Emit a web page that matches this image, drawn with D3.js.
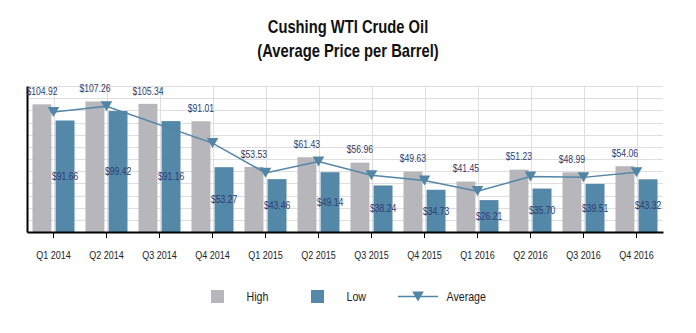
<!DOCTYPE html>
<html>
<head>
<meta charset="utf-8">
<script src="https://cdn.jsdelivr.net/npm/d3@7"></script>
<style>
  html, body { margin: 0; padding: 0; background: #fff; }
  svg { display: block; }
  text { font-family: "Liberation Sans", Arial, sans-serif; }
</style>
</head>
<body>
<svg id="chart" width="696" height="333"></svg>
<script>
// Quarterly WTI crude prices at Cushing ($ per barrel)
const quarters = ["Q1 2014", "Q2 2014", "Q3 2014", "Q4 2014",
                  "Q1 2015", "Q2 2015", "Q3 2015", "Q4 2015",
                  "Q1 2016", "Q2 2016", "Q3 2016", "Q4 2016"];
const highPrices = [104.92, 107.26, 105.34, 91.01, 53.53, 61.43, 56.96, 49.63, 41.45, 51.23, 48.99, 54.06];
const lowPrices  = [91.66, 99.42, 91.16, 53.27, 43.46, 49.14, 38.24, 34.73, 26.21, 35.70, 39.51, 43.32];
const avgPrices  = [98.7, 103.4, null, 73.1, 48.6, 57.9, 46.6, 42.3, 33.6, 45.6, 44.9, 49.2];
const yTicks = d3.range(0, 121, 10);
const titleLines = ["Cushing WTI Crude Oil", "(Average Price per Barrel)"];
const legendItems = ["High", "Low", "Average"];

const colHigh = "#b6b6bb";
const colLow = "#5488a9";
const colLine = "#5286a7";
const colLabel = "#2f3a6c";

// all text is set in a condensed face: squeeze horizontally
const SQ = 0.82;
const at = (x, y) => `translate(${x},${y}) scale(${SQ},1)`;

const svg = d3.select("#chart");
const plot = { left: 27, right: 663, top: 86, bottom: 232 };

const x = d3.scaleBand().domain(quarters).range([plot.left, plot.right]);
const y = d3.scaleLinear().domain([0, 120]).range([plot.bottom, plot.top]);
const sub = d3.scaleBand().domain(["high", "low"]).range([-21, 21]).paddingInner(0.18);
const cx = q => x(q) + x.bandwidth() / 2;

// Title
svg.append("g").selectAll("text").data(titleLines).join("text")
  .attr("transform", (d, i) => at(348, 33 + i * 23.5))
  .attr("text-anchor", "middle")
  .attr("font-size", 18).attr("font-weight", "bold").attr("fill", "#111")
  .text(d => d);

// Gridlines
const grid = svg.append("g");
grid.selectAll("line.h").data(yTicks.filter(t => t > 0)).join("line")
  .attr("class", "h")
  .attr("x1", plot.left).attr("x2", plot.right)
  .attr("y1", d => Math.round(y(d)) + 0.5).attr("y2", d => Math.round(y(d)) + 0.5)
  .attr("stroke", "#dedede").attr("stroke-width", 1);
grid.selectAll("line.v").data(quarters).join("line")
  .attr("class", "v")
  .attr("x1", d => Math.round(cx(d)) + 0.5).attr("x2", d => Math.round(cx(d)) + 0.5)
  .attr("y1", plot.top).attr("y2", plot.bottom)
  .attr("stroke", "#dedede").attr("stroke-width", 1);

// Bars
const bars = svg.append("g");
bars.selectAll("rect.high").data(quarters).join("rect")
  .attr("class", "high")
  .attr("x", (d) => cx(d) + sub("high"))
  .attr("width", sub.bandwidth())
  .attr("y", (d, i) => y(highPrices[i]))
  .attr("height", (d, i) => y(0) - y(highPrices[i]))
  .attr("fill", colHigh);
bars.selectAll("rect.low").data(quarters).join("rect")
  .attr("class", "low")
  .attr("x", (d) => cx(d) + sub("low"))
  .attr("width", sub.bandwidth())
  .attr("y", (d, i) => y(lowPrices[i]))
  .attr("height", (d, i) => y(0) - y(lowPrices[i]))
  .attr("fill", colLow);

// Axes
const xAxis = d3.axisBottom(x).tickSize(6).tickSizeOuter(0);
const gx = svg.append("g").attr("transform", `translate(0,${plot.bottom})`).call(xAxis);
gx.select(".domain").attr("stroke", "#000").attr("stroke-width", 2);
gx.selectAll(".tick line").attr("stroke", "#000").attr("stroke-width", 1);
gx.selectAll(".tick text")
  .attr("font-size", 11).attr("fill", "#222")
  .attr("font-family", "'Liberation Sans', Arial, sans-serif")
  .attr("y", 0).attr("dy", "0.35em")
  .attr("transform", at(0, 23.5));

const yAxis = d3.axisLeft(y).tickValues([]).tickSizeOuter(0);
const gy = svg.append("g").attr("transform", `translate(${plot.left},0)`).call(yAxis);
gy.select(".domain").attr("stroke", "#000").attr("stroke-width", 2);

// Average line and markers
const avgPts = quarters.map((q, i) => ({ q, v: avgPrices[i] })).filter(d => d.v != null);
const line = d3.line().x(d => cx(d.q)).y(d => y(d.v));
svg.append("path").datum(avgPts)
  .attr("d", line).attr("fill", "none").attr("stroke", colLine).attr("stroke-width", 1.5);
const tri = "M-5.8,-5L5.8,-5L0,5Z";
svg.append("g").selectAll("path").data(avgPts).join("path")
  .attr("d", tri)
  .attr("transform", d => `translate(${cx(d.q)},${y(d.v)})`)
  .attr("fill", colLine);

// Value labels
const labels = svg.append("g").attr("font-size", 10.5).attr("fill", colLabel).attr("text-anchor", "middle");
labels.selectAll("text.high").data(quarters).join("text")
  .attr("class", "high")
  .attr("transform", (d, i) => at(cx(d) + sub("high") + sub.bandwidth() / 2, y(highPrices[i]) - 13))
  .attr("dy", "0.35em")
  .text((d, i) => "$" + highPrices[i].toFixed(2));
labels.selectAll("text.low").data(quarters).join("text")
  .attr("class", "low")
  .attr("transform", (d, i) => at(cx(d) + sub("low") + sub.bandwidth() / 2, (y(lowPrices[i]) + y(0)) / 2))
  .attr("dy", "0.35em")
  .text((d, i) => "$" + lowPrices[i].toFixed(2));

// Legend
const lg = svg.append("g");
const ly = 296.5;
lg.append("rect").attr("x", 211).attr("y", ly - 6.5).attr("width", 13).attr("height", 13).attr("fill", colHigh);
lg.append("rect").attr("x", 311).attr("y", ly - 6.5).attr("width", 13).attr("height", 13).attr("fill", colLow);
lg.append("line").attr("x1", 398).attr("x2", 438).attr("y1", ly).attr("y2", ly)
  .attr("stroke", colLine).attr("stroke-width", 1.5);
lg.append("path").attr("d", tri).attr("transform", `translate(418,${ly})`).attr("fill", colLine);
lg.selectAll("text").data(legendItems).join("text")
  .attr("transform", (d, i) => at([246.5, 346.5, 446.5][i], ly))
  .attr("dy", "0.35em")
  .attr("font-size", 13).attr("fill", "#222")
  .text(d => d);
</script>
</body>
</html>
